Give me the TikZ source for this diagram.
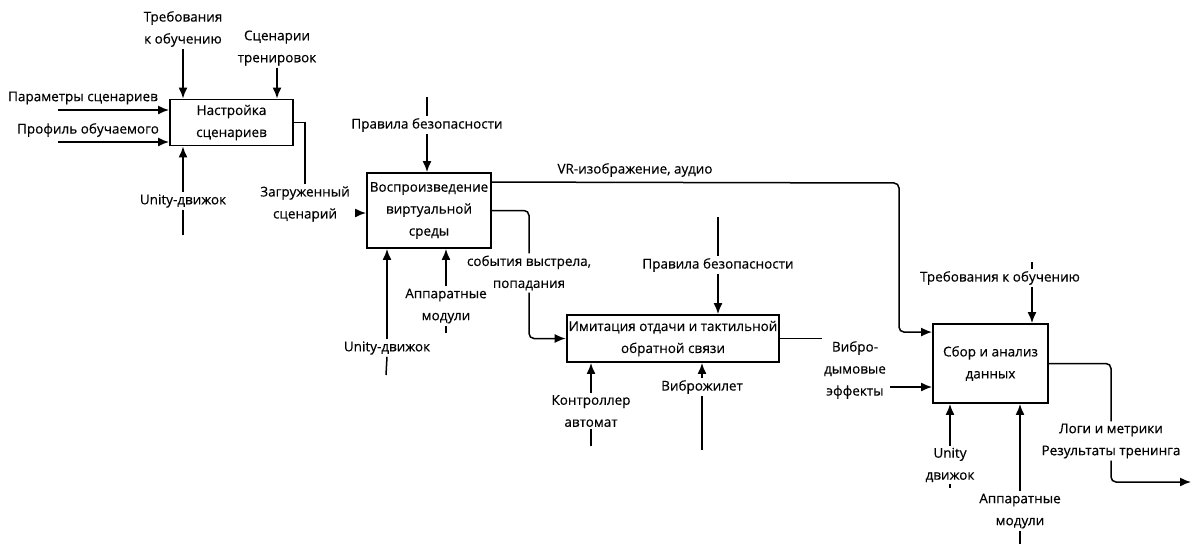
\documentclass[tikz,border=0pt]{standalone}
\usepackage{fontspec}
\setmainfont{Open Sans}[FakeBold=0.35]
\usetikzlibrary{arrows.meta}

\def\boxwidth{1.9pt}
\def\flowwidth{1.5pt}

\begin{document}
\begin{tikzpicture}[x=1pt,y=-1pt,
    font=\fontsize{13.5}{22}\selectfont,
    func/.style={draw,line width=\boxwidth,align=center,inner sep=2pt},
    lbl/.style={align=center,inner sep=2pt},
    flow/.style={line width=\flowwidth,rounded corners=5pt},
    arr/.style={flow,-{Latex[length=11pt,width=9pt]}},
  ]
  \useasboundingbox (0,0) rectangle (1192,544);

  % Function blocks
  \node[func,minimum width=123pt,minimum height=46pt] (setup)    at (231.5,122.5) {Настройка\\сценариев};
  \node[func,minimum width=124pt,minimum height=75pt] (render)   at (429,210.5)   {Воспроизведение\\виртуальной\\среды};
  \node[func,minimum width=212pt,minimum height=47pt] (recoil)   at (673,338.5)   {Имитация отдачи и тактильной\\обратной связи};
  \node[func,minimum width=115pt,minimum height=79pt] (analysis) at (990.5,363.5) {Сбор и анализ\\данных};

  % Labels of inputs, controls, outputs and mechanisms
  \node[lbl] (inPar)    at (83,98)    {Параметры сценариев};
  \node[lbl] (inProf)   at (88,130)   {Профиль обучаемого};
  \node[lbl] (ctReq)    at (183,29)   {Требования\\к обучению};
  \node[lbl] (ctScn)    at (277,48)   {Сценарии\\тренировок};
  \node[lbl] (mcUnity)  at (183,201)  {Unity-движок};
  \node[lbl] (outLoad)  at (305,204)  {Загруженный\\сценарий};
  \node[lbl] (ctSafe)   at (427,125)  {Правила безопасности};
  \node[lbl] (outVR)    at (635,170)  {VR-изображение, аудио};
  \node[lbl] (outShot)  at (529,273)  {события выстрела,\\попадания};
  \node[lbl] (mcUnityB) at (387,348)  {Unity-движок};
  \node[lbl] (mcHw)     at (446,306)  {Аппаратные\\модули};
  \node[lbl] (ctSafeB)  at (718,265)  {Правила безопасности};
  \node[lbl] (mcCtrl)   at (591,411)  {Контроллер\\автомат};
  \node[lbl] (mcVest)   at (702,387)  {Виброжилет};
  \node[lbl] (outFx)    at (855,370)  {Вибро-\\дымовые\\эффекты};
  \node[lbl] (ctReqB)   at (1000,278) {Требования к обучению};
  \node[lbl] (mcUnityC) at (950,465)  {Unity\\движок};
  \node[lbl] (mcHwB)    at (1020,511) {Аппаратные\\модули};
  \node[lbl] (outLogs)  at (1111,441) {Логи и метрики\\Результаты тренинга};

  % Free ends of the connectors
  \coordinate (parS)   at (58,110);
  \coordinate (profS)  at (58,142);
  \coordinate (unityS) at (183,235);
  \coordinate (loadS)  at (357,213);
  \coordinate (safeS)  at (427,97);
  \coordinate (vrBend) at (899,183);
  \coordinate (unityBS) at (386,375);
  \coordinate (hwS)    at (446,333);
  \coordinate (safeBS) at (718,217);
  \coordinate (ctrlS)  at (591,446);
  \coordinate (vestS)  at (702,450);
  \coordinate (fxS)    at (890,387);
  \coordinate (reqX)   at (1032,262);
  \coordinate (unityCS) at (950,488);
  \coordinate (hwBS)   at (1020,544);
  \coordinate (logsE)  at (1191,482);

  % Настройка сценариев
  \draw[arr] (parS) -- (parS -| setup.west);
  \draw[arr] (profS) -- (profS -| setup.west);
  \draw[arr] (ctReq.south) -- (ctReq.south |- setup.north);
  \draw[arr] (ctScn.south) -- (ctScn.south |- setup.north);
  \draw[flow] (unityS) -- (mcUnity.south);
  \draw[arr] (mcUnity.north) -- (mcUnity.north |- setup.south);
  \draw[flow,rounded corners=0pt] (setup.east) -| (outLoad.north);
  \draw[arr] (loadS) -- (loadS -| render.west);

  % Воспроизведение виртуальной среды
  \draw[flow] (safeS) -- (ctSafe.north);
  \draw[arr] (ctSafe.south) -- (ctSafe.south |- render.north);
  \draw[arr] ([yshift=-10pt]render.north east) -- (vrBend) |- ([yshift=-9pt]analysis.north west);
  \draw[flow] (render.east) -| (outShot.north);
  \draw[arr] (outShot.south) |- (recoil.west);
  \draw[flow] (unityBS) -- (mcUnityB.south);
  \draw[arr] (mcUnityB.north) -- (mcUnityB.north |- render.south);
  \draw[flow] (hwS) -- (mcHw.south);
  \draw[arr] (mcHw.north) -- (mcHw.north |- render.south);

  % Имитация отдачи
  \draw[flow] (safeBS) -- (ctSafeB.north);
  \draw[arr] (ctSafeB.south) -- (ctSafeB.south |- recoil.north);
  \draw[flow] (ctrlS) -- (mcCtrl.south);
  \draw[arr] (mcCtrl.north) -- (mcCtrl.north |- recoil.south);
  \draw[flow] (vestS) -- (mcVest.south);
  \draw[arr] (mcVest.north) -- (mcVest.north |- recoil.south);
  \draw[flow] (recoil.east) -- (recoil.east -| outFx.west);
  \draw[arr] (fxS) -- (fxS -| analysis.west);

  % Сбор и анализ данных
  \draw[flow] (reqX) -- (reqX |- ctReqB.north);
  \draw[arr] (reqX |- ctReqB.south) -- (reqX |- analysis.north);
  \draw[flow] (unityCS) -- (mcUnityC.south);
  \draw[arr] (mcUnityC.north) -- (mcUnityC.north |- analysis.south);
  \draw[flow] (hwBS) -- (mcHwB.south);
  \draw[arr] (mcHwB.north) -- (mcHwB.north |- analysis.south);
  \draw[flow] (analysis.east) -| (outLogs.north);
  \draw[arr] (outLogs.south) |- (logsE);
\end{tikzpicture}
\end{document}
